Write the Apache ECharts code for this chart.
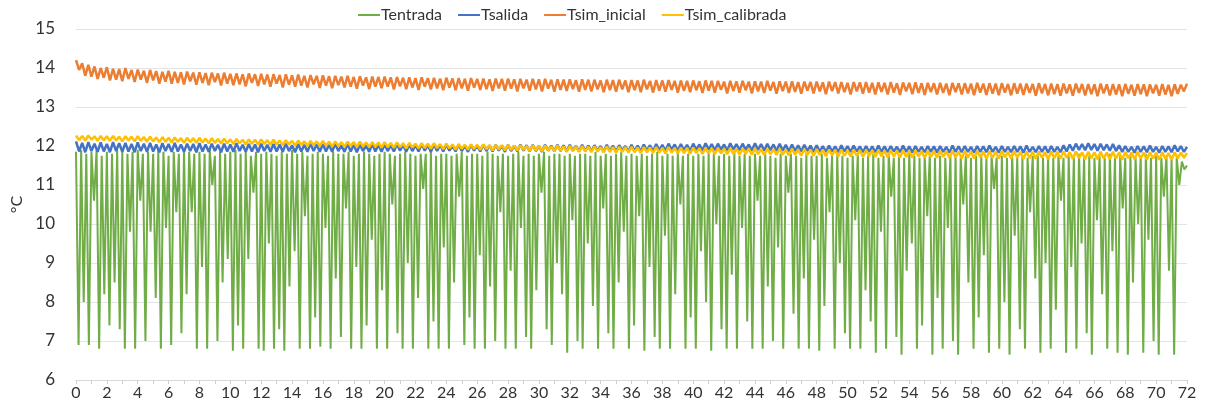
<!DOCTYPE html>
<html>
<head>
<meta charset="utf-8">
<script src="https://cdn.jsdelivr.net/npm/echarts@6/dist/echarts.min.js"></script>
<style>html,body{margin:0;padding:0;background:#fff}#c{width:1218px;height:412px}</style>
</head>
<body>
<div id="c"></div>
<script>
// Tentrada: peaks and dips, one sample every 10 min (1/6 h), alternating peak/dip
const tentradaStep = 1 / 6;
const tentradaPeaks = [
11.85,11.9,11.8,11.85,11.9,11.75,11.85,11.8,11.9,11.85,11.8,11.85,
11.9,11.8,11.85,11.8,11.9,11.85,11.75,11.85,11.8,11.9,11.85,11.8,
11.85,11.8,11.9,11.75,11.85,11.8,11.85,11.9,11.8,11.85,11.75,11.85,
11.8,11.85,11.8,11.75,11.85,11.8,11.9,11.8,11.85,11.75,11.8,11.85,
11.8,11.75,11.85,11.8,11.8,11.85,11.75,11.8,11.85,11.8,11.75,11.8,
11.85,11.8,11.75,11.8,11.85,11.8,11.75,11.8,11.8,11.85,11.75,11.8,
11.8,11.75,11.8,11.85,11.75,11.8,11.8,11.75,11.85,11.8,11.75,11.8,
11.75,11.8,11.85,11.75,11.8,11.75,11.8,11.85,11.75,11.8,11.8,11.75,
11.8,11.75,11.8,11.8,11.75,11.85,11.75,11.8,11.75,11.8,11.85,11.75,
11.8,11.75,11.8,11.75,11.8,11.85,11.75,11.8,11.75,11.8,11.75,11.8,
11.75,11.8,11.75,11.8,11.8,11.75,11.8,11.75,11.85,11.75,11.8,11.75,
11.8,11.75,11.8,11.75,11.7,11.8,11.75,11.8,11.75,11.7,11.8,11.75,
11.75,11.8,11.7,11.75,11.8,11.75,11.7,11.75,11.8,11.7,11.75,11.8,
11.7,11.75,11.8,11.7,11.75,11.7,11.8,11.75,11.7,11.75,11.8,11.7,
11.75,11.7,11.75,11.8,11.7,11.75,11.7,11.75,11.8,11.7,11.75,11.7,
11.75,11.7,11.8,11.7,11.75,11.7,11.75,11.8,11.7,11.75,11.7,11.75,
11.7,11.75,11.7,11.8,11.7,11.75,11.7,11.75,11.7,11.8,11.7,11.75,
11.7,11.75,11.7,11.75,11.8,11.7,11.75,11.7,11.75,11.7,11.7,11.6,
11.5];
const tentradaDips = [
6.9,8.0,6.9,10.6,6.8,8.2,7.4,8.5,7.3,6.8,9.8,6.8,
10.6,7.0,9.8,8.1,6.8,9.9,6.9,10.3,7.2,8.2,10.3,6.8,
8.9,6.8,11.0,7.0,8.5,9.1,6.75,7.4,6.8,9.1,10.8,6.8,
6.75,9.5,6.8,7.3,6.75,8.4,9.3,6.8,10.2,6.8,7.6,6.85,
9.9,6.8,8.6,7.1,10.4,6.8,8.9,6.8,7.4,9.6,6.8,8.3,
6.8,10.5,7.2,6.8,9.0,6.8,8.1,10.9,6.8,7.5,6.8,9.4,
6.8,8.5,10.7,6.9,7.6,6.8,9.2,6.8,8.4,7.0,10.3,6.8,
8.8,6.8,9.9,7.1,6.8,8.3,10.8,7.3,6.9,9.0,8.2,6.7,
10.1,7.0,6.8,9.5,7.9,6.8,10.4,7.2,6.8,8.5,9.8,6.8,
7.4,10.2,6.75,8.9,7.1,6.8,9.7,6.8,8.2,10.5,6.8,7.6,
6.8,9.3,8.0,6.75,10.0,7.3,6.8,8.7,6.8,9.9,7.5,6.8,
10.6,6.8,8.4,7.0,9.4,6.8,10.8,7.7,6.8,8.6,6.8,9.6,
6.75,7.9,10.3,6.8,9.0,7.2,6.8,10.1,6.8,8.3,7.5,6.7,
9.8,6.8,10.7,7.1,6.65,8.8,9.5,6.8,7.4,10.2,6.65,8.1,
6.8,9.9,7.0,6.65,10.5,8.5,6.8,7.6,9.2,6.7,10.9,6.8,
8.0,6.65,9.7,7.3,6.8,10.3,8.6,6.7,9.0,6.8,7.8,10.6,
6.7,8.9,6.8,9.5,7.2,6.65,10.1,8.2,6.8,9.3,6.7,10.4,
6.65,8.5,10.0,6.7,9.6,7.0,6.65,10.7,8.8,6.65,11.0,11.4];

// Simulated / outlet series: one sample every 12 min (0.2 h), alternating high/low
const simStep = 0.2;
const tsalidaHighs = [
12.12,12.08,12.1,12.06,12.09,12.05,12.1,12.07,12.08,12.05,
12.09,12.06,12.08,12.04,12.07,12.05,12.08,12.04,12.06,12.05,
12.07,12.04,12.06,12.03,12.06,12.04,12.07,12.03,12.05,12.04,
12.06,12.03,12.05,12.04,12.06,12.02,12.05,12.03,12.06,12.04,
12.05,12.03,12.06,12.02,12.05,12.03,12.04,12.02,12.05,12.03,
12.04,12.02,12.05,12.03,12.04,12.02,12.05,12.02,12.04,12.03,
12.04,12.01,12.04,12.02,12.03,12.01,12.04,12.02,12.03,12.01,
12.03,12.01,12.04,12.02,12.03,12.0,12.03,12.01,12.03,12.02,
12.03,12.0,12.03,12.01,12.02,12.0,12.03,12.01,12.02,12.0,
12.03,12.01,12.04,12.02,12.05,12.03,12.06,12.04,12.05,12.03,
12.06,12.04,12.07,12.05,12.06,12.04,12.07,12.05,12.06,12.04,
12.07,12.05,12.06,12.04,12.06,12.03,12.04,12.02,12.03,12.01,
12.02,12.0,12.01,11.99,12.02,12.0,12.01,11.99,12.0,11.99,
12.01,11.99,12.0,11.98,12.01,11.99,12.0,11.98,12.0,11.99,
12.0,11.98,12.01,11.99,12.0,11.98,12.0,11.99,12.01,11.98,
12.0,11.98,12.0,11.99,12.01,11.98,12.0,11.99,12.0,11.98,
12.02,12.04,12.06,12.05,12.07,12.05,12.06,12.04,12.05,12.02,
12.0,11.98,12.0,11.99,12.01,11.98,12.0,11.99,12.02,12.0,
11.98];
const tsalidaLows = [
11.86,11.84,11.87,11.85,11.86,11.84,11.87,11.85,11.86,11.84,
11.87,11.85,11.86,11.84,11.87,11.85,11.86,11.85,11.87,11.84,
11.86,11.85,11.87,11.84,11.86,11.85,11.87,11.85,11.86,11.84,
11.87,11.85,11.86,11.85,11.87,11.84,11.86,11.85,11.87,11.85,
11.86,11.85,11.87,11.85,11.86,11.84,11.87,11.85,11.86,11.85,
11.87,11.86,11.88,11.85,11.87,11.86,11.88,11.85,11.87,11.86,
11.88,11.86,11.87,11.85,11.88,11.86,11.87,11.86,11.88,11.85,
11.87,11.86,11.88,11.86,11.87,11.85,11.88,11.86,11.87,11.86,
11.88,11.86,11.87,11.86,11.88,11.85,11.87,11.86,11.88,11.86,
11.87,11.86,11.88,11.86,11.89,11.87,11.9,11.88,11.89,11.87,
11.9,11.88,11.91,11.89,11.9,11.88,11.91,11.89,11.9,11.88,
11.9,11.88,11.89,11.87,11.88,11.86,11.87,11.86,11.87,11.85,
11.86,11.85,11.86,11.84,11.86,11.85,11.86,11.84,11.85,11.84,
11.85,11.84,11.86,11.84,11.85,11.83,11.85,11.84,11.85,11.83,
11.85,11.83,11.85,11.84,11.85,11.83,11.85,11.84,11.85,11.83,
11.85,11.84,11.85,11.83,11.85,11.84,11.85,11.83,11.85,11.84,
11.86,11.88,11.9,11.89,11.9,11.88,11.89,11.88,11.87,11.85,
11.85,11.83,11.85,11.84,11.85,11.83,11.85,11.84,11.86,11.85];

const tsimInicialHighs = [
14.2,14.12,14.08,14.04,14.0,14.02,13.98,13.97,14.0,13.95,
13.96,13.93,13.95,13.92,13.9,13.93,13.9,13.89,13.91,13.88,
13.89,13.87,13.88,13.86,13.88,13.85,13.86,13.84,13.86,13.84,
13.85,13.83,13.84,13.82,13.84,13.81,13.83,13.8,13.82,13.8,
13.81,13.79,13.8,13.78,13.8,13.77,13.79,13.76,13.78,13.77,
13.78,13.76,13.77,13.75,13.76,13.74,13.76,13.74,13.75,13.73,
13.75,13.73,13.74,13.72,13.74,13.72,13.73,13.71,13.73,13.72,
13.73,13.71,13.72,13.7,13.72,13.71,13.72,13.7,13.71,13.7,
13.71,13.69,13.71,13.7,13.7,13.68,13.7,13.69,13.7,13.68,
13.69,13.68,13.7,13.67,13.69,13.68,13.69,13.67,13.68,13.67,
13.68,13.66,13.68,13.67,13.67,13.65,13.67,13.66,13.67,13.65,
13.66,13.65,13.67,13.64,13.66,13.65,13.66,13.64,13.65,13.64,
13.65,13.63,13.65,13.64,13.64,13.62,13.64,13.63,13.64,13.62,
13.63,13.62,13.64,13.61,13.63,13.62,13.63,13.61,13.62,13.61,
13.62,13.6,13.62,13.61,13.61,13.6,13.62,13.6,13.61,13.6,
13.61,13.59,13.61,13.6,13.6,13.59,13.61,13.59,13.6,13.59,
13.6,13.58,13.6,13.59,13.59,13.58,13.6,13.58,13.59,13.58,
13.59,13.57,13.59,13.58,13.58,13.57,13.59,13.57,13.58,13.57,
13.6];
const tsimInicialLows = [
13.95,13.8,13.78,13.72,13.75,13.68,13.7,13.66,13.72,13.64,
13.7,13.62,13.68,13.6,13.65,13.6,13.62,13.58,13.66,13.57,
13.62,13.56,13.64,13.55,13.6,13.56,13.58,13.53,13.62,13.54,
13.58,13.52,13.6,13.5,13.57,13.52,13.55,13.5,13.58,13.49,
13.55,13.48,13.56,13.5,13.52,13.47,13.55,13.46,13.52,13.48,
13.52,13.45,13.53,13.46,13.5,13.44,13.52,13.45,13.48,13.43,
13.5,13.43,13.48,13.42,13.5,13.44,13.46,13.41,13.48,13.42,
13.47,13.4,13.48,13.42,13.45,13.4,13.47,13.39,13.44,13.41,
13.46,13.39,13.44,13.4,13.45,13.38,13.43,13.39,13.45,13.38,
13.43,13.38,13.45,13.37,13.42,13.39,13.44,13.37,13.41,13.38,
13.43,13.36,13.42,13.37,13.44,13.35,13.41,13.37,13.43,13.35,
13.4,13.36,13.42,13.34,13.41,13.36,13.39,13.34,13.42,13.35,
13.4,13.33,13.41,13.35,13.38,13.32,13.4,13.34,13.37,13.32,
13.39,13.32,13.37,13.31,13.4,13.33,13.36,13.31,13.38,13.32,
13.36,13.3,13.38,13.32,13.35,13.3,13.37,13.31,13.34,13.3,
13.37,13.3,13.34,13.31,13.36,13.29,13.35,13.3,13.33,13.29,
13.35,13.29,13.36,13.3,13.33,13.28,13.35,13.3,13.32,13.28,
13.34,13.29,13.33,13.28,13.35,13.29,13.32,13.28,13.34,13.4];

const tsimCalibradaHighs = [
12.27,12.26,12.27,12.25,12.26,12.25,12.26,12.24,12.25,12.24,
12.25,12.23,12.24,12.22,12.23,12.21,12.22,12.2,12.21,12.2,
12.21,12.19,12.2,12.18,12.19,12.17,12.18,12.16,12.17,12.16,
12.17,12.15,12.16,12.14,12.15,12.13,12.14,12.12,12.13,12.12,
12.13,12.11,12.12,12.1,12.11,12.1,12.11,12.09,12.1,12.09,
12.1,12.08,12.09,12.07,12.08,12.06,12.07,12.06,12.07,12.05,
12.06,12.04,12.05,12.03,12.04,12.03,12.04,12.02,12.03,12.02,
12.03,12.01,12.02,12.0,12.02,12.0,12.01,11.99,12.01,11.99,
12.0,11.98,12.0,11.98,11.99,11.97,11.99,11.97,11.98,11.97,
11.98,11.96,11.97,11.96,11.97,11.95,11.97,11.95,11.96,11.95,
11.96,11.94,11.95,11.94,11.95,11.93,11.95,11.93,11.94,11.93,
11.94,11.92,11.93,11.92,11.93,11.91,11.93,11.91,11.92,11.91,
11.92,11.9,11.91,11.9,11.91,11.89,11.91,11.89,11.9,11.89,
11.9,11.88,11.89,11.88,11.89,11.87,11.89,11.87,11.88,11.87,
11.88,11.87,11.88,11.86,11.88,11.86,11.87,11.86,11.87,11.86,
11.87,11.85,11.87,11.85,11.86,11.85,11.86,11.84,11.86,11.85,
11.86,11.84,11.86,11.84,11.85,11.84,11.85,11.83,11.85,11.84,
11.85,11.83,11.85,11.83,11.84,11.83,11.84,11.82,11.84,11.83,
11.82];
const tsimCalibradaLows = [
12.15,12.14,12.16,12.13,12.15,12.13,12.14,12.12,12.14,12.12,
12.13,12.11,12.12,12.1,12.11,12.09,12.11,12.08,12.1,12.08,
12.09,12.07,12.08,12.06,12.07,12.05,12.07,12.04,12.06,12.04,
12.05,12.03,12.04,12.02,12.04,12.01,12.03,12.0,12.02,12.0,
12.01,11.99,12.0,11.98,12.0,11.97,11.99,11.97,11.98,11.96,
11.97,11.95,11.97,11.94,11.96,11.94,11.95,11.93,11.95,11.92,
11.94,11.91,11.93,11.91,11.92,11.9,11.92,11.89,11.91,11.89,
11.9,11.88,11.9,11.87,11.89,11.87,11.88,11.86,11.88,11.85,
11.87,11.85,11.86,11.84,11.86,11.84,11.85,11.83,11.85,11.83,
11.84,11.82,11.84,11.82,11.83,11.81,11.83,11.81,11.82,11.8,
11.82,11.8,11.81,11.79,11.81,11.79,11.8,11.78,11.8,11.78,
11.79,11.77,11.79,11.77,11.78,11.76,11.78,11.75,11.77,11.75,
11.77,11.74,11.76,11.73,11.75,11.73,11.75,11.72,11.74,11.72,
11.74,11.71,11.73,11.7,11.72,11.7,11.73,11.69,11.72,11.7,
11.72,11.69,11.71,11.68,11.7,11.68,11.71,11.67,11.7,11.68,
11.71,11.68,11.7,11.67,11.69,11.67,11.7,11.66,11.69,11.67,
11.7,11.67,11.69,11.66,11.69,11.66,11.68,11.66,11.68,11.65,
11.69,11.66,11.68,11.65,11.68,11.65,11.67,11.65,11.68,11.7];

const seriesNames = ['Tentrada', 'Tsalida', 'Tsim_inicial', 'Tsim_calibrada'];
const seriesColors = ['#70ad47', '#4472c4', '#ed7d31', '#ffc000'];

// Build [time, value] pairs by alternating highs and lows
function buildSeries(highs, lows, step) {
  const out = [];
  let idx = 0;
  for (let k = 0; k < highs.length; k++) {
    out.push([idx * step, highs[k]]); idx++;
    if (k < lows.length) { out.push([idx * step, lows[k]]); idx++; }
  }
  return out;
}

const dataSets = [
  buildSeries(tentradaPeaks, tentradaDips, tentradaStep),
  buildSeries(tsalidaHighs, tsalidaLows, simStep),
  buildSeries(tsimInicialHighs, tsimInicialLows, simStep),
  buildSeries(tsimCalibradaHighs, tsimCalibradaLows, simStep)
];

const FONT = 'Lato, "Liberation Sans", sans-serif';
const chart = echarts.init(document.getElementById('c'), null, { renderer: 'canvas' });
chart.setOption({
  animation: false,
  backgroundColor: '#ffffff',
  textStyle: { fontFamily: FONT },
  legend: {
    top: 2,
    left: 353,
    itemWidth: 22,
    itemHeight: 10,
    itemGap: 16,
    icon: 'path://M0,4 L22,4 L22,6 L0,6 Z',
    textStyle: { fontFamily: FONT, fontSize: 16, color: '#333333', padding: [0, 0, 0, -4] },
    data: seriesNames
  },
  grid: { left: 76, right: 31, top: 29, bottom: 32, containLabel: false },
  xAxis: {
    type: 'value',
    min: 0,
    max: 72,
    interval: 1,
    axisLine: { show: true, lineStyle: { color: '#d9d9d9', width: 1 } },
    axisTick: { show: true, length: 4, lineStyle: { color: '#d0d0d0' } },
    splitLine: { show: false },
    axisLabel: {
      fontFamily: FONT, fontSize: 16, color: '#333333', margin: 5,
      formatter: function (v) { return v % 2 === 0 ? String(v) : ''; }
    }
  },
  yAxis: {
    type: 'value',
    min: 6,
    max: 15,
    interval: 1,
    name: '°C',
    nameLocation: 'middle',
    nameRotate: 90,
    nameGap: 50,
    nameTextStyle: { fontFamily: FONT, fontSize: 16, color: '#333333' },
    axisLine: { show: false },
    axisTick: { show: false },
    splitLine: { lineStyle: { color: '#e3e3e3', width: 1 } },
    axisLabel: { fontFamily: FONT, fontSize: 17, color: '#333333', margin: 21 }
  },
  series: seriesNames.map(function (name, i) {
    return {
      name: name,
      type: 'line',
      data: dataSets[i],
      symbol: 'none',
      showSymbol: false,
      smooth: false,
      color: seriesColors[i],
      lineStyle: { color: seriesColors[i], width: i === 0 ? 2 : 2.5 },
      z: 2 + i
    };
  })
});
</script>
</body>
</html>
